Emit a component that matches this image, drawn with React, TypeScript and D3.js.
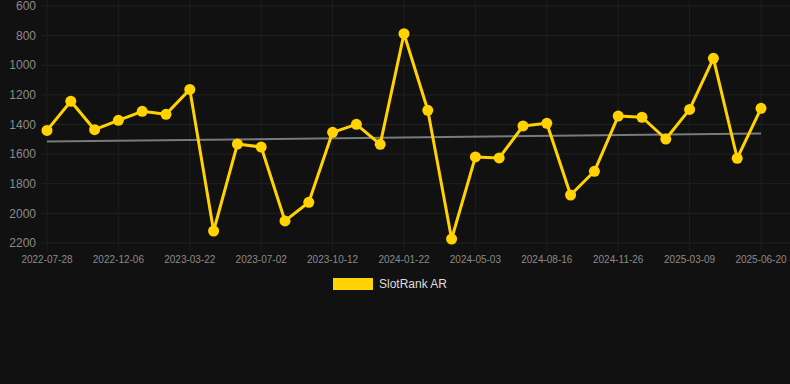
import React from "react";
import * as d3 from "d3";

const tickLabels = [
  "2022-07-28", "2022-12-06", "2023-03-22", "2023-07-02", "2023-10-12",
  "2024-01-22", "2024-05-03", "2024-08-16", "2024-11-26", "2025-03-09", "2025-06-20",
];
const seriesName = "SlotRank AR";
const rankValues = [
  1440, 1243, 1435, 1372, 1311, 1331, 1163, 2119, 1532, 1552,
  2051, 1925, 1453, 1399, 1534, 787, 1304, 2173, 1619, 1626,
  1410, 1392, 1876, 1716, 1343, 1351, 1498, 1298, 953, 1628, 1291,
];
const yTicks = [600, 800, 1000, 1200, 1400, 1600, 1800, 2000, 2200];
const pointsPerTick = 3;

const W = 790;
const H = 384;
const FONT = "'Liberation Sans', Arial, sans-serif";

export default function App() {
  const idx = rankValues.map((_, i) => i);
  const x = d3.scalePoint<number>().domain(idx).range([47, 761]);
  const y = d3.scaleLinear().domain([600, 2200]).range([6, 243]);

  const line = d3
    .line<number>()
    .x((_, i) => x(i) as number)
    .y((d) => y(d));

  // linear regression trend
  const n = rankValues.length;
  const mx = d3.mean(idx) as number;
  const my = d3.mean(rankValues) as number;
  let num = 0;
  let den = 0;
  idx.forEach((i) => {
    num += (i - mx) * (rankValues[i] - my);
    den += (i - mx) * (i - mx);
  });
  const slope = num / den;
  const intercept = my - slope * mx;
  const t0 = intercept;
  const t1 = intercept + slope * (n - 1);

  const tickIdx = tickLabels.map((_, k) => k * pointsPerTick);

  return (
    <div style={{ position: "fixed", left: 0, top: 0, width: W, height: H, background: "#111111" }}>
      <svg width={W} height={H} style={{ display: "block" }}>
        <rect x={0} y={0} width={W} height={H} fill="#111111" />
        {yTicks.map((t) => (
          <line key={"hy" + t} x1={42} x2={W} y1={y(t)} y2={y(t)} stroke="#222222" strokeWidth={1} />
        ))}
        {tickIdx.map((i) => (
          <line key={"vx" + i} x1={x(i)} x2={x(i)} y1={0} y2={251} stroke="#1e1e1e" strokeWidth={1} />
        ))}
        {yTicks.map((t) => (
          <text
            key={"ly" + t}
            x={36}
            y={y(t)}
            dy="0.35em"
            textAnchor="end"
            fontFamily={FONT}
            fontSize={12}
            fill="#8a8a8a"
          >
            {t}
          </text>
        ))}
        {tickIdx.map((i, k) => (
          <text
            key={"lx" + i}
            x={x(i)}
            y={262.5}
            textAnchor="middle"
            fontFamily={FONT}
            fontSize={10}
            fill="#8a8a8a"
          >
            {tickLabels[k]}
          </text>
        ))}
        <line
          x1={x(0)}
          x2={x(n - 1)}
          y1={y(t0)}
          y2={y(t1)}
          stroke="#7a7a7a"
          strokeWidth={2}
        />
        <path d={line(rankValues) || ""} fill="none" stroke="#FFD200" strokeWidth={3} strokeLinejoin="round" />
        {rankValues.map((v, i) => (
          <circle key={"p" + i} cx={x(i)} cy={y(v)} r={5.5} fill="#FFD200" />
        ))}
        <rect x={333} y={278} width={40} height={12} fill="#FFD200" />
        <text x={379} y={284} dy="0.35em" fontFamily={FONT} fontSize={12} fill="#dddddd">
          {seriesName}
        </text>
      </svg>
    </div>
  );
}
